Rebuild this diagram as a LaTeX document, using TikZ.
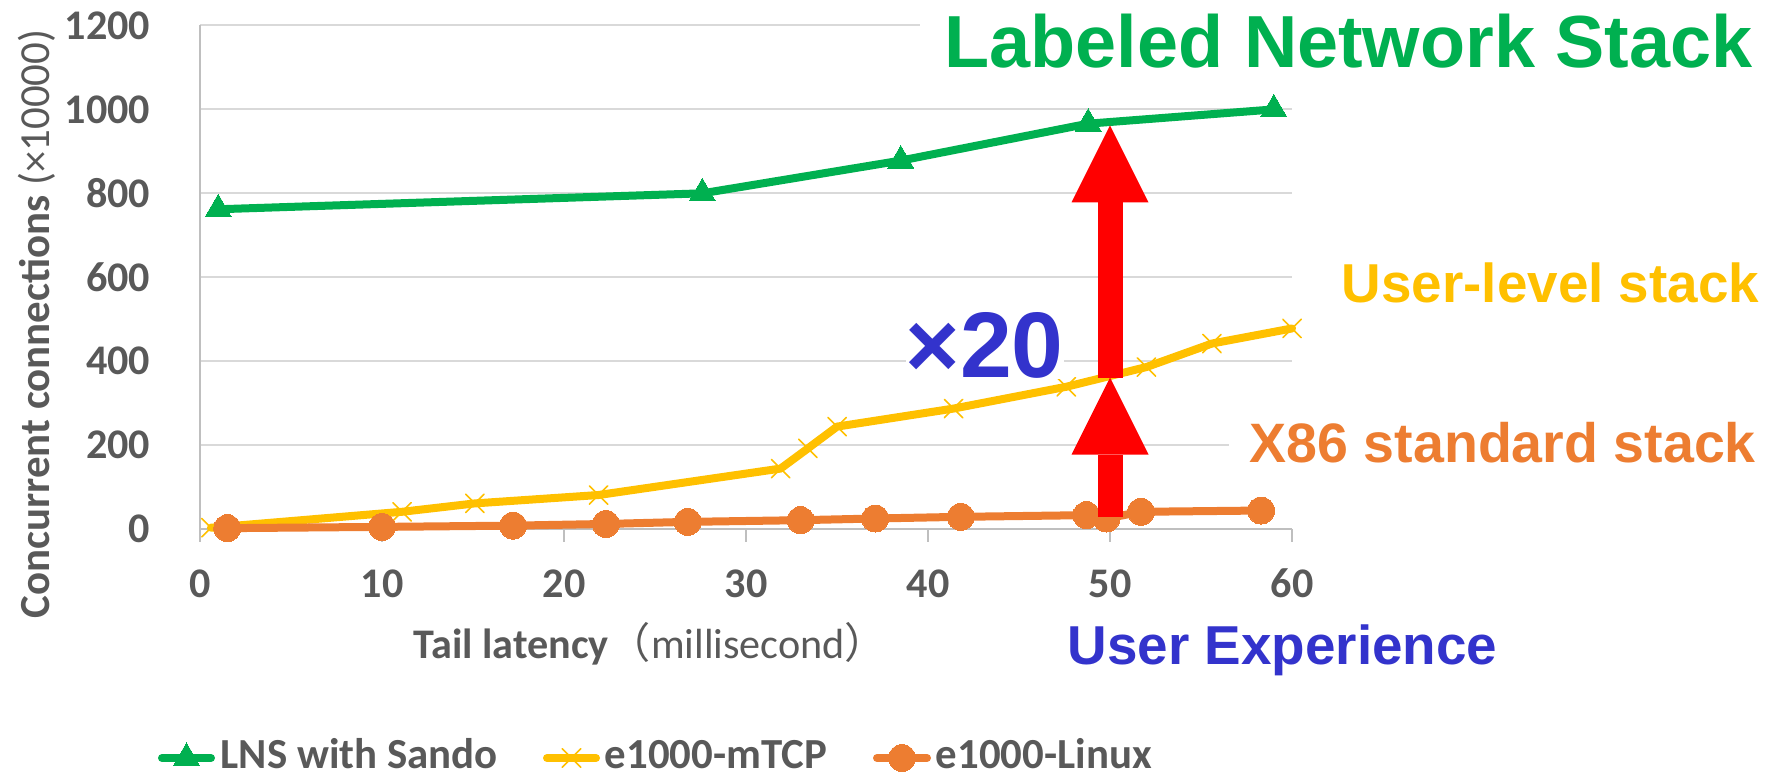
\documentclass[tikz,border=0pt]{standalone}
\usepackage{fontspec}
\setmainfont{Carlito}
\newfontfamily\arialfont{Liberation Sans}
\newfontfamily\cjkfont{Noto Sans CJK SC}
\usetikzlibrary{arrows.meta,plotmarks}

\definecolor{lnsgreen}{HTML}{00B050}
\definecolor{mtcpyellow}{HTML}{FFC000}
\definecolor{linuxorange}{HTML}{ED7D31}
\definecolor{gainred}{HTML}{FF0000}
\definecolor{noteblue}{HTML}{3333CC}
\definecolor{textgrey}{HTML}{595959}
\definecolor{gridgrey}{HTML}{D9D9D9}
\definecolor{axisgrey}{HTML}{BFBFBF}

\tikzset{
  gridline/.style={gridgrey, line width=0.02cm},
  axisline/.style={axisgrey, line width=0.018cm},
  ticklabel/.style={textgrey, inner sep=0pt, font=\fontsize{12pt}{14pt}\selectfont\bfseries},
  legendtext/.style={textgrey, inner sep=0pt, font=\fontsize{12.2pt}{14pt}\selectfont\bfseries},
  series/.style={line width=0.08cm, line cap=round, line join=round},
  lns/.style={series, lnsgreen, mark=triangle*, mark size=0.15cm,
    mark options={solid, fill=lnsgreen, line width=0pt}},
  mtcp/.style={series, mtcpyellow, mark=x, mark size=0.13cm,
    mark options={solid, line width=0.45pt}},
  linux/.style={series, linuxorange, mark=*, mark size=0.135cm,
    mark options={solid, fill=linuxorange, line width=0pt}},
  gainarrow/.style={gainred, line width=0.25cm,
    -{Triangle[width=0.77cm, length=0.77cm, line width=0pt]}},
  callout/.style={inner sep=0pt, font=\arialfont\bfseries},
}

\begin{document}
\begin{tikzpicture}
\useasboundingbox (0,0) rectangle (17.71,7.76);

% chart area, in data units
\begin{scope}[shift={(2.00,2.47)}, x=0.182cm, y=0.0042cm]
  \foreach \v in {200,400,...,1200}
    \draw[gridline] (0,\v) -- (60,\v);
  \draw[axisline] (0,-30) -- (0,1200);
  \draw[axisline] (0,0) -- (60,0);
  \foreach \t in {10,20,...,60}
    \draw[axisline] (\t,0) -- (\t,-30);

  \foreach \v in {0,200,...,1200}
    \node[ticklabel, anchor=east, xshift=-0.49cm] (ytick\v) at (0,\v) {\v};
  \foreach \t in {0,10,...,60}
    \node[ticklabel, anchor=base, yshift=-0.69cm] (xtick\t) at (\t,0) {\t};

  % the three stacks
  \draw[lns] plot coordinates {(1,762) (27.6,800) (38.5,878) (48.8,966) (59,1000)};
  \draw[mtcp] plot coordinates {(0.6,3) (11.1,41) (15.1,61) (21.9,81) (31.9,144)
    (33.4,192) (35,244) (41.4,287) (47.6,339) (52,386) (55.6,442) (60,478)};
  \draw[linux] plot coordinates {(1.5,2) (10,5) (17.2,8) (22.3,12) (26.8,17) (33,21)
    (37.1,25) (41.8,29) (48.7,33) (49.8,25) (51.7,41) (58.3,44)};

  % gain at 50 ms
  \coordinate (gapLow) at (50,29);
  \coordinate (gapMid) at (50,361);
  \coordinate (gapTop) at (50,962);
  \draw[gainarrow] (gapLow) -- (gapMid);
  \draw[gainarrow] (gapMid) -- (gapTop);
\end{scope}

% axis titles
\node[ticklabel, rotate=90, anchor=base, font=\fontsize{12.2pt}{14pt}\selectfont\bfseries]
  (yTitle) at (0.49,4.52) {Concurrent connections {\mdseries(×10000)}};
\node[ticklabel, anchor=base west, font=\fontsize{12pt}{14pt}\selectfont\bfseries]
  (xTitle) at (4.13,1.17) {Tail latency{\mdseries\cjkfont （}{\mdseries millisecond}{\mdseries\cjkfont ）}};

% callouts
\node[callout, lnsgreen, fill=white, inner xsep=0.25cm, inner ysep=0.05cm, anchor=base west,
  font=\arialfont\bfseries\fontsize{21pt}{25pt}\selectfont]
  (lnsNote) at (9.19,7.08) {Labeled Network Stack};
\node[callout, mtcpyellow, anchor=base west, font=\arialfont\bfseries\fontsize{15.6pt}{18pt}\selectfont]
  (mtcpNote) at (13.41,4.73) {User-level stack};
\node[callout, linuxorange, fill=white, inner xsep=0.21cm, inner ysep=0.05cm, anchor=base west,
  font=\arialfont\bfseries\fontsize{15.8pt}{18pt}\selectfont]
  (linuxNote) at (12.28,3.13) {X86 standard stack};
\node[callout, noteblue, fill=white, anchor=base west, font=\arialfont\bfseries\fontsize{26.5pt}{30pt}\selectfont]
  (gainNote) at (9.05,3.98) {×20};
\node[callout, noteblue, anchor=base west, font=\arialfont\bfseries\fontsize{15.6pt}{18pt}\selectfont]
  (uxNote) at (10.67,1.11) {User Experience};

% legend
\draw[lns, mark indices=2] plot coordinates {(1.62,0.18) (1.865,0.18) (2.11,0.18)};
\node[legendtext, anchor=base west] (lnsKey) at (2.20,0.07) {LNS with Sando};
\draw[mtcp, mark indices=2] plot coordinates {(5.47,0.18) (5.715,0.18) (5.96,0.18)};
\node[legendtext, anchor=base west] (mtcpKey) at (6.04,0.07) {e1000-mTCP};
\draw[linux, mark indices=2] plot coordinates {(8.77,0.18) (9.02,0.18) (9.27,0.18)};
\node[legendtext, anchor=base west] (linuxKey) at (9.35,0.07) {e1000-Linux};
\end{tikzpicture}
\end{document}
